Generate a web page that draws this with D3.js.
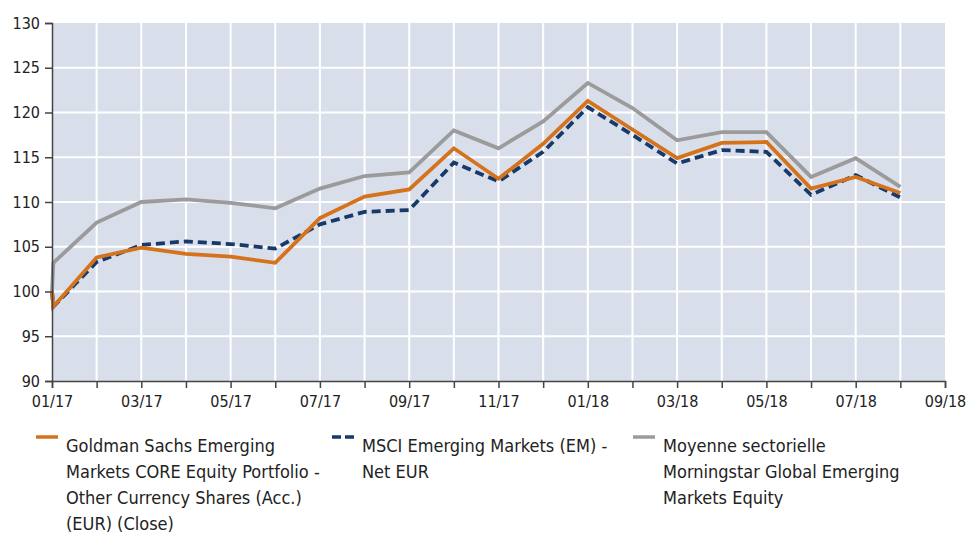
<!DOCTYPE html>
<html>
<head>
<meta charset="UTF-8">
<title></title>
<script src="https://cdn.jsdelivr.net/npm/d3@7/dist/d3.min.js"></script>
<style>
	*{margin:0;padding:0;}
	body{background:#fff;}
	#chart{width:967px;height:533px;}
	text{font-family:"DejaVu Sans Condensed","Liberation Sans Narrow",sans-serif;fill:#222;}
</style>
</head>
<body>
<div id="chart"></div>
<script>
// month labels on the x axis (one tick per month, label every other month)
var monthLabels = ["01/17","02/17","03/17","04/17","05/17","06/17","07/17","08/17","09/17","10/17",
	"11/17","12/17","01/18","02/18","03/18","04/18","05/18","06/18","07/18","08/18","09/18"];
// position of each data point, in months since 01/17
var pointMonths = [0,0.03,1,2,3,4,5,6,7,8,9,10,11,12,13,14,15,16,17,18,19];
var fundValues  = [100,98.3,103.8,104.9,104.2,103.9,103.2,108.2,110.6,111.4,116.0,112.6,116.5,121.3,118.1,114.9,116.6,116.7,111.5,112.8,111.0];
var indexValues = [100,98.3,103.3,105.2,105.6,105.3,104.8,107.5,108.9,109.1,114.4,112.3,115.6,120.6,117.5,114.3,115.8,115.6,110.8,113.0,110.5];
var peerValues  = [100,103.2,107.7,110.0,110.3,109.9,109.3,111.5,112.9,113.3,118.0,116.0,119.0,123.3,120.5,116.9,117.8,117.8,112.8,114.9,111.7];
var yTicks = [90,95,100,105,110,115,120,125,130];

var seriesNames = [
	["Goldman Sachs Emerging","Markets CORE Equity Portfolio -","Other Currency Shares (Acc.)","(EUR) (Close)"],
	["MSCI Emerging Markets (EM) -","Net EUR"],
	["Moyenne sectorielle","Morningstar Global Emerging","Markets Equity"]
];
var seriesColors = ["#d4731c","#17396b","#9b9b9b"];

var W = 967, H = 533;
var margin = {top:23, left:52, right:22, bottom:152};
var plotW = W - margin.left - margin.right;
var plotH = H - margin.top - margin.bottom;

var svg = d3.select("#chart").append("svg").attr("width",W).attr("height",H);
var g = svg.append("g").attr("transform","translate("+margin.left+","+margin.top+")");

var x = d3.scaleLinear().domain([0, monthLabels.length-1]).range([0, plotW]);
var y = d3.scaleLinear().domain([90,130]).range([plotH, 0]);

//背景
g.append("rect").attr("width",plotW).attr("height",plotH).attr("fill","#d9dfea");

//网格
g.append("g").selectAll("line").data(d3.range(1, monthLabels.length-1)).enter()
	.append("line")
	.attr("x1",function(d){return x(d);}).attr("x2",function(d){return x(d);})
	.attr("y1",0).attr("y2",plotH)
	.attr("stroke","#fff").attr("stroke-width",2);
g.append("g").selectAll("line").data(yTicks.slice(1,-1)).enter()
	.append("line")
	.attr("x1",0).attr("x2",plotW)
	.attr("y1",function(d){return y(d);}).attr("y2",function(d){return y(d);})
	.attr("stroke","#fff").attr("stroke-width",2);

//线
var data = [fundValues, indexValues, peerValues];
var line = d3.line()
	.x(function(d,i){return x(pointMonths[i]);})
	.y(function(d){return y(d);});
[2,1,0].forEach(function(k){
	g.append("path")
		.attr("d", line(data[k]))
		.attr("fill","none")
		.attr("stroke",seriesColors[k])
		.attr("stroke-width",3.8)
		.attr("stroke-dasharray", k==1 ? "9,5" : null);
});

//坐标轴
var yAxis = d3.axisLeft(y).tickValues(yTicks).tickSize(7).tickPadding(5);
var gy = g.append("g").call(yAxis);
var xAxis = d3.axisBottom(x).tickValues(d3.range(monthLabels.length))
	.tickSize(7).tickPadding(8)
	.tickFormat(function(d){return d%2==0 ? monthLabels[d] : "";});
var gx = g.append("g").attr("transform","translate(0,"+plotH+")").call(xAxis);
[gx,gy].forEach(function(a){
	a.select(".domain").attr("stroke","#444").attr("stroke-width",1.5);
	a.selectAll(".tick line").attr("stroke","#444").attr("stroke-width",1.5);
	a.selectAll("text").style("font-size","16px").attr("fill","#222")
		.style("font-family","'DejaVu Sans Condensed','Liberation Sans Narrow',sans-serif");
});

//图例
var legendX = [36, 332, 633];
var legend = svg.append("g");
seriesNames.forEach(function(lines,k){
	var lg = legend.append("g").attr("transform","translate("+legendX[k]+",437)");
	lg.append("line").attr("x1",0).attr("x2",22).attr("y1",0).attr("y2",0)
		.attr("stroke",seriesColors[k]).attr("stroke-width",3.5)
		.attr("stroke-dasharray", k==1 ? "9,4" : null);
	lg.append("text").attr("x",30).attr("y",15)
		.style("font-size","18px")
		.selectAll("tspan").data(lines).enter()
		.append("tspan").attr("x",30).attr("dy",function(d,i){return i==0 ? 0 : 26;})
		.text(function(d){return d;});
});
</script>
</body>
</html>
